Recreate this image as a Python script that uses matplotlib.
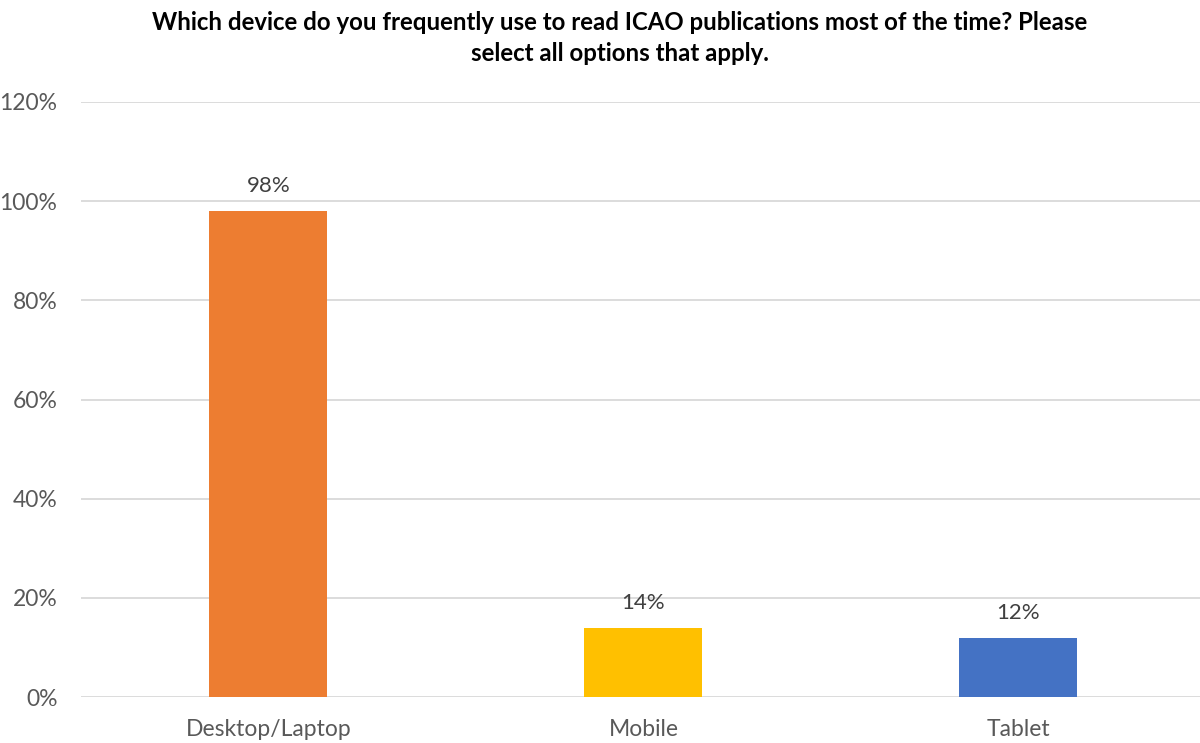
import matplotlib
matplotlib.use("Agg")
import matplotlib.pyplot as plt
from matplotlib.ticker import PercentFormatter

# Survey data
categories = ["Desktop/Laptop", "Mobile", "Tablet"]
shares = [98, 14, 12]
bar_colors = ["#ED7D31", "#FFC000", "#4472C4"]
title = ("Which device do you frequently use to read ICAO publications most of the time? Please\n"
         "select all options that apply.")

plt.rcParams["font.family"] = ["Lato", "DejaVu Sans"]
text_color = "#595959"

fig = plt.figure(figsize=(12, 7.43), dpi=100)
W, H = 1200, 743
# plot area: x from 81 px, category width 375 px; y 0% at 697 px, 120% at 102 px
left, right = 81, 81 + 3 * 375
bottom, top = 697, 102
ax = fig.add_axes([left / W, (H - bottom) / H, (right - left) / W, (bottom - top) / H])

x = range(len(categories))
bars = ax.bar(x, shares, width=118 / 375, color=bar_colors, zorder=3)

for b, v in zip(bars, shares):
    ax.text(b.get_x() + b.get_width() / 2, v + 3, f"{v}%", ha="center", va="bottom",
            fontsize=16, color="#404040")

ax.set_xlim(-0.5, len(categories) - 0.5)
ax.set_ylim(0, 120)
ax.set_yticks(range(0, 121, 20))
ax.yaxis.set_major_formatter(PercentFormatter(decimals=0))
ax.set_xticks(list(x))
ax.set_xticklabels(categories)
ax.tick_params(axis="both", length=0, labelsize=16.5, labelcolor=text_color)
ax.tick_params(axis="y", pad=17)
ax.tick_params(axis="x", pad=16)
ax.grid(axis="y", color="#D9D9D9", linewidth=1.3, zorder=0)
for s in ax.spines.values():
    s.set_visible(False)

fig.text(620 / W, 1 - 38 / H, title, ha="center", va="center", fontsize=17.3,
         fontweight="bold", color="black", linespacing=1.4)

fig.savefig("out.png", dpi=100)
